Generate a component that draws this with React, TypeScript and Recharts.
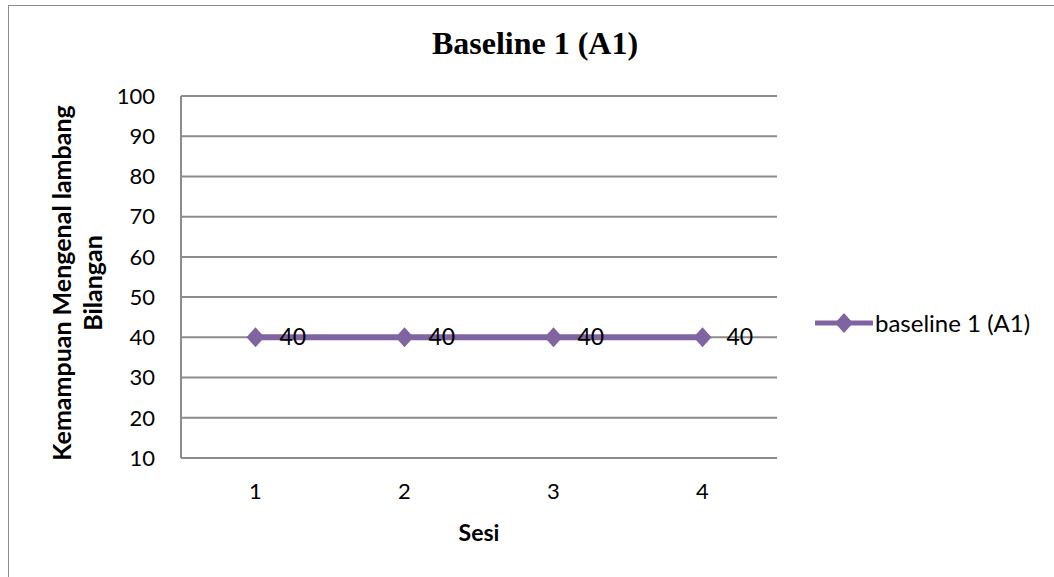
import { LineChart, Line, XAxis, YAxis, CartesianGrid, LabelList, Legend } from 'recharts';

const sesi = [1, 2, 3, 4];
const baseline = [40, 40, 40, 40];
const yTicks = [10, 20, 30, 40, 50, 60, 70, 80, 90, 100];
const judul = 'Baseline 1 (A1)';
const namaSeri = 'baseline 1 (A1)';
const labelX = 'Sesi';
const labelY = ['Kemampuan Mengenal lambang', 'Bilangan'];

const data = sesi.map((s, i) => ({ sesi: s, nilai: baseline[i] }));

const ungu = '#8064A2';
const abu = '#8c8c8c';
const hurufSans = 'Lato, "Open Sans", sans-serif';

// titik berbentuk wajik seperti di Excel
const Wajik = (props: any) => {
  const { cx, cy } = props;
  if (cx == null || cy == null) return null;
  return (
    <polygon
      points={`${cx},${cy - 10} ${cx + 9},${cy} ${cx},${cy + 10} ${cx - 9},${cy}`}
      fill={ungu}
    />
  );
};

const LabelSumbuY = (props: any) => {
  const { viewBox } = props;
  const cy = viewBox.y + viewBox.height / 2 + 6;
  const x1 = viewBox.x - 60;
  const x2 = viewBox.x - 29;
  return (
    <g fontFamily={hurufSans} fontWeight="bold" fontSize={25} fill="#000">
      <text x={x1} y={cy} textAnchor="middle" dominantBaseline="central" transform={`rotate(-90, ${x1}, ${cy})`}>
        {labelY[0]}
      </text>
      <text x={x2} y={cy} textAnchor="middle" dominantBaseline="central" transform={`rotate(-90, ${x2}, ${cy})`}>
        {labelY[1]}
      </text>
    </g>
  );
};

const Legenda = () => (
  <div style={{ display: 'flex', alignItems: 'center', fontFamily: hurufSans, fontSize: 24, color: '#000', whiteSpace: 'nowrap' }}>
    <svg width={58} height={22} style={{ marginRight: 2 }}>
      <line x1={1} y1={11} x2={57} y2={11} stroke={ungu} strokeWidth={5} strokeLinecap="round" />
      <polygon points="29,1 38,11 29,21 20,11" fill={ungu} />
    </svg>
    <span>{namaSeri}</span>
  </div>
);

export default function App() {
  return (
    <div style={{ position: 'absolute', left: 0, top: 0, width: 1054, height: 577, overflow: 'hidden', background: '#fff' }}>
      <div
        style={{
          position: 'absolute',
          left: 8,
          top: 5,
          width: 2000,
          height: 2000,
          borderLeft: `1.5px solid ${abu}`,
          borderTop: `1.5px solid ${abu}`,
        }}
      />
      <div
        style={{
          position: 'absolute',
          left: 335,
          top: 28,
          width: 400,
          textAlign: 'center',
          fontFamily: '"Liberation Serif", "Times New Roman", serif',
          fontWeight: 'bold',
          fontSize: 32,
          lineHeight: '30px',
        }}
      >
        {judul}
      </div>
      <div style={{ position: 'absolute', left: 0, top: 0 }}>
        <LineChart width={1054} height={577} data={data} margin={{ top: 96, right: 277, bottom: 79, left: 121 }}>
          <CartesianGrid vertical={false} stroke={abu} strokeWidth={2} />
          <XAxis
            dataKey="sesi"
            type="number"
            domain={[0.5, 4.5]}
            ticks={sesi}
            height={40}
            axisLine={{ stroke: abu, strokeWidth: 2 }}
            tickLine={false}
            tickSize={0}
            tickMargin={25}
            tick={{ fill: '#000', fontSize: 22, fontFamily: hurufSans }}
            label={{ value: labelX, position: 'bottom', offset: 27, fill: '#000', fontSize: 23, fontWeight: 'bold', fontFamily: hurufSans }}
          />
          <YAxis
            type="number"
            domain={[10, 100]}
            ticks={yTicks}
            width={60}
            interval={0}
            axisLine={{ stroke: abu, strokeWidth: 2 }}
            tickLine={false}
            tickSize={0}
            tickMargin={26}
            tick={{ fill: '#000', fontSize: 22, fontFamily: hurufSans }}
            label={<LabelSumbuY />}
          />
          <Legend
            layout="vertical"
            align="center"
            verticalAlign="middle"
            content={<Legenda />}
            wrapperStyle={{ left: 815, top: 308, width: 'auto' }}
          />
          <Line
            dataKey="nilai"
            name={namaSeri}
            stroke={ungu}
            strokeWidth={6}
            dot={<Wajik />}
            activeDot={false}
            isAnimationActive={false}
          >
            <LabelList dataKey="nilai" position="right" offset={24} fill="#000" fontSize={23} fontFamily={hurufSans} />
          </Line>
        </LineChart>
      </div>
    </div>
  );
}
